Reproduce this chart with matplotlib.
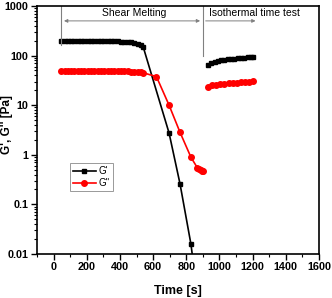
import matplotlib.pyplot as plt

plt.rcParams['font.family'] = ['Liberation Sans', 'DejaVu Sans']
plt.rcParams['font.weight'] = 'bold'

# shear melting part
t_shear_gp = [46, 66, 86, 106, 126, 146, 166, 186, 206, 226, 246, 266, 286, 306, 326,
              346, 366, 386, 406, 426, 446, 466, 486, 506, 526, 540, 696, 762, 828, 862]
g_prime = [198, 198, 198, 198, 198, 198, 198, 198, 198, 197, 197, 197, 196, 196, 195,
           195, 194, 193, 192, 190, 188, 185, 180, 172, 162, 150, 2.75, 0.26, 0.0157, 0.002]

t_shear_gpp = [46, 66, 86, 106, 126, 146, 166, 186, 206, 226, 246, 266, 286, 306, 326,
               346, 366, 386, 406, 426, 446, 466, 486, 506, 526, 540, 620, 696, 762, 828,
               866, 876, 886, 896, 902]
g_dprime = [49, 49, 49, 49, 49, 49, 49, 49, 49, 49, 49, 49, 49, 49, 49,
            49, 49, 49, 48.5, 48.5, 48, 47.5, 47, 46.5, 46, 45, 37.6, 10, 2.84, 0.89,
            0.55, 0.52, 0.5, 0.48, 0.47]

# isothermal part
t_iso_gp = [930, 950, 970, 990, 1010, 1030, 1050, 1070, 1090, 1110, 1130, 1150, 1170, 1190, 1200]
g_prime_iso = [65, 71, 75, 78, 80, 82, 84, 86, 87, 89, 90, 91, 93, 94, 95]
t_iso_gpp = [930, 955, 980, 1005, 1030, 1055, 1080, 1105, 1130, 1155, 1180, 1200]
g_dprime_iso = [23, 25, 26, 26.5, 27, 27.5, 28, 28.5, 29, 29.5, 30, 30.5]

fig = plt.figure(figsize=(3.32, 2.98), dpi=100)
ax = fig.add_axes([0.1114, 0.1477, 0.8496, 0.8323])

ax.plot(t_shear_gp, g_prime, color='black', marker='s', ms=3.5, lw=1.2, label="G'")
ax.plot(t_shear_gpp, g_dprime, color='#ff0000', marker='o', ms=4, lw=1.2, label="G''")
ax.plot(t_iso_gp, g_prime_iso, color='black', marker='s', ms=3.5, lw=1.2)
ax.plot(t_iso_gpp, g_dprime_iso, color='#ff0000', marker='o', ms=4, lw=1.2)

ax.set_yscale('log')
ax.set_xlim(-100, 1600)
ax.set_ylim(0.01, 1000)
ax.set_xticks(range(0, 1601, 200))
ax.set_xticks(range(-100, 1601, 100), minor=True)
ax.set_yticks([0.01, 0.1, 1, 10, 100, 1000])
ax.set_yticklabels(['0.01', '0.1', '1', '10', '100', '1000'])
ax.tick_params(which='major', direction='out', length=4, width=1, labelsize=7.8, pad=2)
ax.tick_params(which='minor', direction='out', length=2, width=0.8)
for s in ax.spines.values():
    s.set_linewidth(1.2)

ax.set_xlabel('Time [s]', fontsize=9, fontweight='bold', labelpad=9)
ax.set_ylabel("G', G'' [Pa]", fontsize=8.5, fontweight='bold')
ax.yaxis.set_label_coords(-0.085, 0.52)

# region annotations
ax.plot([46, 46], [160, 1000], color='gray', lw=0.8)
ax.plot([900, 900], [100, 1000], color='gray', lw=0.8)
ax.annotate('', xy=(46, 500), xytext=(900, 500),
            arrowprops=dict(arrowstyle='<|-|>', color='gray', lw=0.7, mutation_scale=5))
ax.annotate('', xy=(1234, 500), xytext=(900, 500),
            arrowprops=dict(arrowstyle='-|>', color='gray', lw=0.7, mutation_scale=5))
ax.text(485, 560, 'Shear Melting', fontsize=7.5, fontweight='normal', ha='center', va='bottom')
ax.text(935, 560, 'Isothermal time test', fontsize=7.5, fontweight='normal', ha='left', va='bottom')

leg = ax.legend(loc='upper left', bbox_to_anchor=(0.118, 0.365), fontsize=7, frameon=True,
                fancybox=False, edgecolor='gray', handlelength=2.3, borderpad=0.3,
                labelspacing=0.2, handletextpad=0.3, borderaxespad=0)
leg.get_frame().set_linewidth(0.7)
for t in leg.get_texts():
    t.set_fontweight('normal')

fig.savefig('out.png', dpi=100)
